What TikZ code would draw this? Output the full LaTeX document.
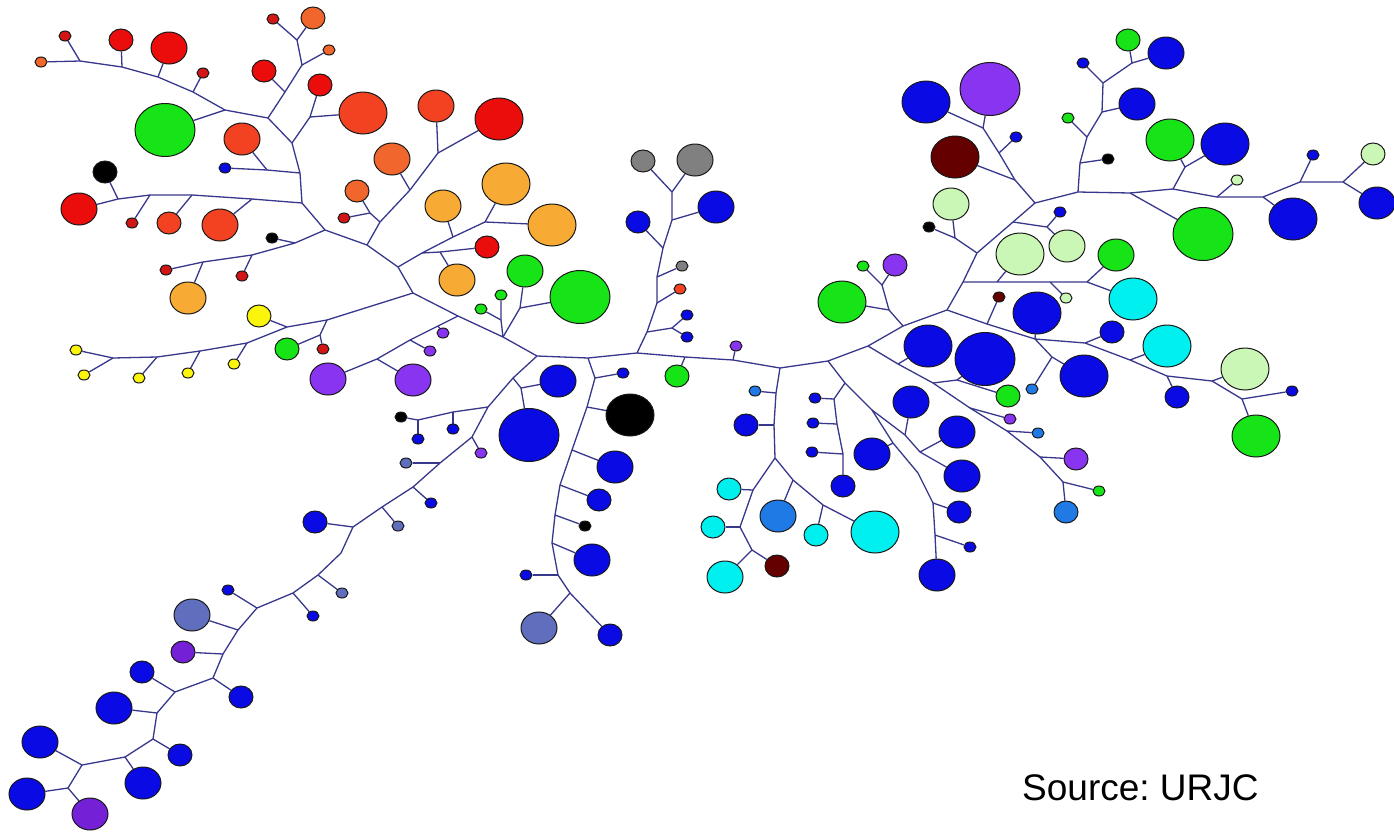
\documentclass[tikz,border=0pt]{standalone}
\usepackage{fontspec}
\setmainfont{Liberation Sans}
\usetikzlibrary{shapes.geometric,backgrounds}
\definecolor{cred}{RGB}{235,12,12}
\definecolor{cred2}{RGB}{210,22,22}
\definecolor{cored}{RGB}{242,66,34}
\definecolor{corng}{RGB}{240,102,44}
\definecolor{camber}{RGB}{247,170,52}
\definecolor{cyel}{RGB}{250,245,10}
\definecolor{cgreen}{RGB}{22,228,22}
\definecolor{clgreen}{RGB}{202,246,182}
\definecolor{cblue}{RGB}{10,10,228}
\definecolor{cpurp}{RGB}{136,52,240}
\definecolor{cpurp2}{RGB}{116,32,215}
\definecolor{cmaroon}{RGB}{100,0,0}
\definecolor{ccyan}{RGB}{0,240,240}
\definecolor{cdodger}{RGB}{32,122,230}
\definecolor{cgrey}{RGB}{128,128,128}
\definecolor{cslate}{RGB}{96,110,190}
\definecolor{cedge}{RGB}{55,55,140}
\newcommand\Bub[5]{\node[bub,#4,fill=#5] (#1) at (#2,#3) {};}
\frenchspacing
\begin{document}
\begin{tikzpicture}[x=1pt,y=-1pt,
  bub/.style={ellipse,inner sep=0pt,draw=black!90,line width=1pt},
  sA/.style={minimum width=12pt,minimum height=10pt},
  sB/.style={minimum width=24pt,minimum height=22pt},
  sC/.style={minimum width=36pt,minimum height=32pt},
  sD/.style={minimum width=48pt,minimum height=42pt},
  sE/.style={minimum width=60pt,minimum height=53pt},
  lnk/.style={draw=cedge,line width=1.3pt}]
\useasboundingbox (0,0) rectangle (1394,833);
% ---------- junctions ----------
\coordinate (j1) at (80,61);   \coordinate (j2) at (122,67);
\coordinate (j3) at (158,77);  \coordinate (j4) at (193,92);
\coordinate (j5) at (225,110); \coordinate (j6) at (268,118);
\coordinate (j7) at (292,143); \coordinate (j8) at (300,173);
\coordinate (j9) at (302,203); \coordinate (j10) at (325,230);
\coordinate (j11) at (367,245);\coordinate (j12) at (398,267);
\coordinate (j13) at (413,293);\coordinate (j14) at (285,92);
\coordinate (j15) at (302,65); \coordinate (j16) at (297,40);
\coordinate (j17) at (310,117);\coordinate (j18) at (267,170);
\coordinate (j19) at (252,199);\coordinate (j20) at (192,195);
\coordinate (j21) at (150,195);\coordinate (j22) at (118,199);
\coordinate (j23) at (295,243);\coordinate (j24) at (252,255);
\coordinate (j25) at (203,262);\coordinate (j26) at (380,222);
\coordinate (j27) at (410,190);\coordinate (j28) at (438,153);
\coordinate (j29) at (370,213);\coordinate (j30) at (422,253);
\coordinate (j31) at (453,237);\coordinate (j32) at (485,222);
\coordinate (j33) at (440,252);
\coordinate (k1) at (113,358); \coordinate (k2) at (157,357);
\coordinate (k3) at (200,351); \coordinate (k4) at (247,343);
\coordinate (k5) at (287,327); \coordinate (k6) at (327,320);
\coordinate (k7) at (320,335); \coordinate (k8) at (377,359);
\coordinate (k9) at (410,340); \coordinate (k10) at (438,326);
\coordinate (k11) at (458,316);\coordinate (k12) at (503,337);
\coordinate (k13) at (520,308);\coordinate (k14) at (501,320);
\coordinate (hub) at (537,356);
\coordinate (b1) at (513,378); \coordinate (b2) at (521,388);
\coordinate (b3) at (488,407); \coordinate (b4) at (472,437);
\coordinate (b5) at (440,463); \coordinate (b6) at (413,487);
\coordinate (b7) at (382,507); \coordinate (b8) at (353,527);
\coordinate (b9) at (341,553); \coordinate (b10) at (318,575);
\coordinate (b11) at (293,593);\coordinate (b12) at (257,608);
\coordinate (b13) at (238,630);\coordinate (b14) at (223,654);
\coordinate (b15) at (213,678);\coordinate (b16) at (175,692);
\coordinate (b17) at (157,713);\coordinate (b18) at (153,739);
\coordinate (b19) at (125,757);\coordinate (b20) at (82,765);
\coordinate (b21) at (68,788); \coordinate (b22) at (453,412);
\coordinate (b23) at (418,420);
\coordinate (m1) at (588,358); \coordinate (m2) at (637,353);
\coordinate (m3) at (685,357); \coordinate (m4) at (733,360);
\coordinate (m5) at (780,368); \coordinate (m6) at (828,361);
\coordinate (m7) at (868,346); \coordinate (m8) at (903,326);
\coordinate (m9) at (947,310); \coordinate (m10) at (963,282);
\coordinate (m11) at (977,253);\coordinate (m12) at (1013,222);
\coordinate (m13) at (1035,203);
\coordinate (e1) at (595,378); \coordinate (e2) at (587,407);
\coordinate (e3) at (572,450); \coordinate (e4) at (560,485);
\coordinate (e5) at (555,515); \coordinate (e6) at (552,543);
\coordinate (e7) at (558,575); \coordinate (e8) at (570,593);
\coordinate (n1) at (647,332); \coordinate (n2) at (657,303);
\coordinate (n3) at (657,277); \coordinate (n4) at (663,248);
\coordinate (n5) at (672,220); \coordinate (n6) at (672,192);
\coordinate (n7) at (672,328);
\coordinate (q1) at (776,393); \coordinate (q2) at (774,425);
\coordinate (q3) at (775,458); \coordinate (q4) at (753,490);
\coordinate (q5) at (740,527); \coordinate (q6) at (752,550);
\coordinate (q7) at (793,480); \coordinate (q8) at (823,505);
\coordinate (s1) at (845,383); \coordinate (s2) at (872,410);
\coordinate (s3) at (893,443); \coordinate (s4) at (918,473);
\coordinate (s5) at (933,503); \coordinate (s6) at (935,535);
\coordinate (s7) at (834,399); \coordinate (s8) at (837,424);
\coordinate (s9) at (843,454);
\coordinate (u1) at (905,435); \coordinate (u2) at (920,452);
\coordinate (v1) at (898,364); \coordinate (v2) at (933,383);
\coordinate (v3) at (970,408); \coordinate (v4) at (1007,431);
\coordinate (v5) at (1040,457);\coordinate (v6) at (1063,482);
\coordinate (v7) at (957,380);
\coordinate (x1) at (987,324); \coordinate (x2) at (1035,339);
\coordinate (x3) at (1085,343);\coordinate (x4) at (1130,360);
\coordinate (x5) at (1167,376);\coordinate (x6) at (1212,381);
\coordinate (x8) at (1052,357);\coordinate (x9) at (1242,399);
\coordinate (h1) at (997,282); \coordinate (h2) at (1050,282);
\coordinate (h3) at (1087,282);
\coordinate (a1) at (955,238); \coordinate (a2) at (1047,227);
\coordinate (a3) at (1015,180);\coordinate (a4) at (999,153);
\coordinate (a5) at (983,128); \coordinate (a6) at (889,310);
\coordinate (a7) at (882,285);
\coordinate (o1) at (1078,192);\coordinate (o2) at (1130,193);
\coordinate (o3) at (1173,189);\coordinate (o4) at (1217,197);
\coordinate (o5) at (1263,197);\coordinate (o6) at (1300,182);
\coordinate (o7) at (1343,182);\coordinate (o8) at (1080,163);
\coordinate (o9) at (1087,137);\coordinate (o10) at (1102,112);
\coordinate (o11) at (1103,83);\coordinate (o12) at (1132,63);
\coordinate (o13) at (1185,167);
% ---------- top-left subtree ----------
\Bub{c1}{41}{62}{sA}{corng}
\Bub{c2}{65}{36}{sA}{cred2}
\Bub{c3}{121}{40}{sB}{cred}
\Bub{c4}{169}{48}{sC}{cred}
\Bub{c5}{203}{73}{sA}{cred2}
\Bub{c6}{273}{19}{sA}{cred2}
\Bub{c7}{313}{18}{sB}{corng}
\Bub{c8}{329}{50}{sA}{corng}
\Bub{c9}{264}{71}{sB}{cred}
\Bub{c10}{320}{85}{sB}{cred}
\Bub{c11}{165}{130}{sE}{cgreen}
\Bub{c12}{242}{139}{sC}{cored}
\Bub{c13}{225}{168}{sA}{cblue}
\Bub{c14}{105}{172}{sB}{black}
\Bub{c15}{79}{209}{sC}{cred}
\Bub{c16}{132}{223}{sA}{cred2}
\Bub{c17}{169}{223}{sB}{cored}
\Bub{c18}{220}{225}{sC}{cored}
\Bub{c19}{272}{238}{sA}{black}
\Bub{c20}{242}{276}{sA}{cred2}
\Bub{c21}{166}{270}{sA}{cred2}
\Bub{c22}{188}{298}{sC}{camber}
\Bub{c23}{363}{113}{sD}{cored}
\Bub{c24}{436}{106}{sC}{cored}
\Bub{c25}{499}{119}{sD}{cred}
\Bub{c26}{392}{159}{sC}{corng}
\Bub{c27}{357}{191}{sB}{corng}
\Bub{c28}{344}{218}{sA}{cred2}
\Bub{c29}{443}{206}{sC}{camber}
\Bub{c30}{506}{184}{sD}{camber}
\Bub{c31}{552}{225}{sD}{camber}
\Bub{c32}{487}{247}{sB}{cred}
\Bub{c33}{457}{280}{sC}{camber}
% ---------- yellow / purple / green ----------
\Bub{y1}{76}{350}{sA}{cyel}
\Bub{y2}{84}{375}{sA}{cyel}
\Bub{y3}{139}{378}{sA}{cyel}
\Bub{y4}{188}{373}{sA}{cyel}
\Bub{y5}{234}{364}{sA}{cyel}
\Bub{y6}{259}{316}{sB}{cyel}
\Bub{y7}{287}{349}{sB}{cgreen}
\Bub{y8}{323}{349}{sA}{cred2}
\Bub{y9}{328}{379}{sC}{cpurp}
\Bub{y10}{413}{380}{sC}{cpurp}
\Bub{y11}{430}{351}{sA}{cpurp}
\Bub{y12}{443}{333}{sA}{cpurp}
\Bub{g1}{525}{271}{sC}{cgreen}
\Bub{g2}{580}{297}{sE}{cgreen}
\Bub{g3}{501}{295}{sA}{cgreen}
\Bub{g4}{481}{309}{sA}{cgreen}
% ---------- lower-left chain ----------
\Bub{d1}{558}{381}{sC}{cblue}
\Bub{d2}{529}{435}{sE}{cblue}
\Bub{d3}{401}{417}{sA}{black}
\Bub{d4}{453}{429}{sA}{cblue}
\Bub{d5}{418}{439}{sA}{cblue}
\Bub{d6}{481}{453}{sA}{cpurp}
\Bub{d7}{406}{463}{sA}{cslate}
\Bub{d8}{431}{503}{sA}{cblue}
\Bub{d9}{398}{526}{sA}{cslate}
\Bub{d10}{315}{522}{sB}{cblue}
\Bub{d11}{342}{593}{sA}{cslate}
\Bub{d12}{313}{616}{sA}{cblue}
\Bub{d13}{228}{590}{sA}{cblue}
\Bub{d14}{192}{615}{sC}{cslate}
\Bub{d15}{183}{652}{sB}{cpurp2}
\Bub{d16}{241}{697}{sB}{cblue}
\Bub{d17}{142}{672}{sB}{cblue}
\Bub{d18}{114}{708}{sC}{cblue}
\Bub{d19}{180}{755}{sB}{cblue}
\Bub{d20}{143}{783}{sC}{cblue}
\Bub{d21}{40}{742}{sC}{cblue}
\Bub{d22}{27}{794}{sC}{cblue}
\Bub{d23}{90}{814}{sC}{cpurp2}
% ---------- middle down branch ----------
\Bub{f1}{623}{373}{sA}{cblue}
\Bub{f2}{630}{415}{sD}{black}
\Bub{f3}{615}{467}{sC}{cblue}
\Bub{f4}{599}{500}{sB}{cblue}
\Bub{f5}{585}{526}{sA}{black}
\Bub{f6}{592}{560}{sC}{cblue}
\Bub{f7}{526}{575}{sA}{cblue}
\Bub{f8}{539}{628}{sC}{cslate}
\Bub{f9}{610}{635}{sB}{cblue}
% ---------- grey branch ----------
\Bub{p1}{687}{315}{sA}{cblue}
\Bub{p2}{687}{337}{sA}{cblue}
\Bub{p3}{680}{289}{sA}{cored}
\Bub{p4}{682}{266}{sA}{cgrey}
\Bub{p5}{638}{222}{sB}{cblue}
\Bub{p6}{716}{207}{sC}{cblue}
\Bub{p7}{643}{161}{sB}{cgrey}
\Bub{p8}{695}{160}{sC}{cgrey}
\Bub{p9}{677}{376}{sB}{cgreen}
\Bub{p10}{736}{346}{sA}{cpurp}
% ---------- central-right ----------
\Bub{r1}{755}{391}{sA}{cdodger}
\Bub{r2}{746}{425}{sB}{cblue}
\Bub{r3}{729}{489}{sB}{ccyan}
\Bub{r4}{713}{527}{sB}{ccyan}
\Bub{r5}{725}{577}{sC}{ccyan}
\Bub{r6}{777}{566}{sB}{cmaroon}
\Bub{r7}{875}{532}{sD}{ccyan}
\Bub{r8}{778}{516}{sC}{cdodger}
\Bub{r9}{816}{535}{sB}{ccyan}
\Bub{t1}{937}{575}{sC}{cblue}
\Bub{t2}{843}{486}{sB}{cblue}
\Bub{t3}{815}{398}{sA}{cblue}
\Bub{t4}{813}{423}{sA}{cblue}
\Bub{t5}{812}{452}{sA}{cblue}
\Bub{t6}{872}{454}{sC}{cblue}
\Bub{t7}{959}{512}{sB}{cblue}
\Bub{t8}{970}{547}{sA}{cblue}
\Bub{t9}{962}{476}{sC}{cblue}
\Bub{t10}{911}{402}{sC}{cblue}
\Bub{t11}{957}{432}{sC}{cblue}
\Bub{w1}{1066}{512}{sB}{cdodger}
\Bub{w2}{928}{346}{sD}{cblue}
\Bub{w3}{985}{359}{sE}{cblue}
\Bub{w4}{1008}{396}{sB}{cgreen}
\Bub{w5}{1010}{419}{sA}{cpurp}
\Bub{w6}{1038}{433}{sA}{cdodger}
\Bub{w7}{1076}{459}{sB}{cpurp}
\Bub{w8}{1099}{491}{sA}{cgreen}
% ---------- right ----------
\Bub{z1}{999}{297}{sA}{cmaroon}
\Bub{z2}{1037}{313}{sD}{cblue}
\Bub{z3}{1032}{389}{sA}{cdodger}
\Bub{z4}{1084}{376}{sD}{cblue}
\Bub{z5}{1112}{332}{sB}{cblue}
\Bub{z6}{1167}{346}{sD}{ccyan}
\Bub{z7}{1177}{397}{sB}{cblue}
\Bub{z8}{1245}{369}{sD}{clgreen}
\Bub{z9}{1292}{391}{sA}{cblue}
\Bub{z10}{1256}{436}{sD}{cgreen}
\Bub{z11}{1133}{299}{sD}{ccyan}
\Bub{z12}{1020}{254}{sD}{clgreen}
\Bub{z13}{1066}{298}{sA}{clgreen}
\Bub{z14}{1116}{255}{sC}{cgreen}
\Bub{z15}{951}{204}{sC}{clgreen}
\Bub{z16}{929}{227}{sA}{black}
\Bub{z17}{1060}{212}{sA}{cblue}
\Bub{z18}{1067}{246}{sC}{clgreen}
\Bub{z19}{955}{157}{sD}{cmaroon}
\Bub{z20}{1016}{137}{sA}{cblue}
\Bub{z21}{926}{102}{sD}{cblue}
\Bub{z22}{990}{89}{sE}{cpurp}
\Bub{z23}{842}{302}{sD}{cgreen}
\Bub{z24}{863}{266}{sA}{cgreen}
\Bub{z25}{895}{265}{sB}{cpurp}
\Bub{z26}{1377}{203}{sC}{cblue}
\Bub{z27}{1108}{159}{sA}{black}
\Bub{z28}{1068}{118}{sA}{cgreen}
\Bub{z29}{1137}{104}{sC}{cblue}
\Bub{z30}{1083}{63}{sA}{cblue}
\Bub{z31}{1128}{40}{sB}{cgreen}
\Bub{z32}{1166}{53}{sC}{cblue}
\Bub{z33}{1203}{234}{sE}{cgreen}
\Bub{z34}{1170}{140}{sD}{cgreen}
\Bub{z35}{1225}{144}{sD}{cblue}
\Bub{z36}{1237}{180}{sA}{clgreen}
\Bub{z37}{1293}{219}{sD}{cblue}
\Bub{z38}{1313}{155}{sA}{cblue}
\Bub{z39}{1373}{154}{sB}{clgreen}
\node[anchor=base west,inner sep=0pt,font=\fontsize{37}{44}\selectfont] (src) at (1022,800) {Source: URJC};
% ---------- connectors ----------
\begin{pgfonlayer}{background}
\draw[lnk] (c1) -- (j1) -- (j2) -- (j3) -- (j4) -- (j5) -- (j6) -- (j7) -- (j8) -- (j9) -- (j10) -- (j11) -- (j12) -- (j13) -- (k11) -- (k12) -- (hub) -- (m1) -- (m2) -- (m3) -- (m4) -- (m5) -- (m6) -- (m7) -- (m8) -- (m9) -- (m10) -- (m11) -- (m12) -- (m13) -- (o1) -- (o2) -- (o3) -- (o4) -- (o5) -- (o6) -- (o7) -- (z26);
\draw[lnk] (j1) -- (c2);  \draw[lnk] (j2) -- (c3);  \draw[lnk] (j3) -- (c4);
\draw[lnk] (j4) -- (c5);  \draw[lnk] (j5) -- (c11);
\draw[lnk] (j6) -- (j14) -- (j15) -- (j16) -- (c6);
\draw[lnk] (j14) -- (c9); \draw[lnk] (j15) -- (c8); \draw[lnk] (j16) -- (c7);
\draw[lnk] (j7) -- (j17) -- (c10); \draw[lnk] (j17) -- (c23);
\draw[lnk] (j8) -- (j18) -- (c13); \draw[lnk] (j18) -- (c12);
\draw[lnk] (j9) -- (j19) -- (j20) -- (j21) -- (j22) -- (c15);
\draw[lnk] (j19) -- (c18); \draw[lnk] (j20) -- (c17); \draw[lnk] (j21) -- (c16); \draw[lnk] (j22) -- (c14);
\draw[lnk] (j10) -- (j23) -- (j24) -- (j25) -- (c21);
\draw[lnk] (j23) -- (c19); \draw[lnk] (j24) -- (c20); \draw[lnk] (j25) -- (c22);
\draw[lnk] (j11) -- (j26) -- (j27) -- (j28) -- (c25);
\draw[lnk] (j28) -- (c24); \draw[lnk] (j27) -- (c26);
\draw[lnk] (j26) -- (j29) -- (c27); \draw[lnk] (j29) -- (c28);
\draw[lnk] (j12) -- (j30) -- (j31) -- (j32) -- (c31);
\draw[lnk] (j32) -- (c30); \draw[lnk] (j31) -- (c29);
\draw[lnk] (j30) -- (j33) -- (c32); \draw[lnk] (j33) -- (c33);
\draw[lnk] (y1) -- (k1) -- (k2) -- (k3) -- (k4) -- (k5) -- (k6) -- (j13);
\draw[lnk] (k1) -- (y2); \draw[lnk] (k2) -- (y3); \draw[lnk] (k3) -- (y4);
\draw[lnk] (k4) -- (y5); \draw[lnk] (k5) -- (y6);
\draw[lnk] (k6) -- (k7) -- (y7); \draw[lnk] (k7) -- (y8);
\draw[lnk] (y9) -- (k8) -- (k9) -- (k10) -- (k11);
\draw[lnk] (k8) -- (y10); \draw[lnk] (k9) -- (y11); \draw[lnk] (k10) -- (y12);
\draw[lnk] (k12) -- (k13) -- (g1); \draw[lnk] (k13) -- (g2);
\draw[lnk] (k12) -- (k14) -- (g3); \draw[lnk] (k14) -- (g4);
% lower-left chain
\draw[lnk] (hub) -- (b1) -- (b3) -- (b4) -- (b5) -- (b6) -- (b7) -- (b8) -- (b9) -- (b10) -- (b11) -- (b12) -- (b13) -- (b14) -- (b15) -- (b16) -- (b17) -- (b18) -- (b19) -- (b20) -- (b21) -- (d22);
\draw[lnk] (b1) -- (b2) -- (d1); \draw[lnk] (b2) -- (d2);
\draw[lnk] (b3) -- (b22) -- (b23) -- (d3); \draw[lnk] (b22) -- (d4); \draw[lnk] (b23) -- (d5);
\draw[lnk] (b4) -- (d6);  \draw[lnk] (b5) -- (d7);  \draw[lnk] (b6) -- (d8);
\draw[lnk] (b7) -- (d9);  \draw[lnk] (b8) -- (d10); \draw[lnk] (b10) -- (d11);
\draw[lnk] (b11) -- (d12); \draw[lnk] (b12) -- (d13); \draw[lnk] (b13) -- (d14);
\draw[lnk] (b14) -- (d15); \draw[lnk] (b15) -- (d16); \draw[lnk] (b16) -- (d17);
\draw[lnk] (b17) -- (d18); \draw[lnk] (b18) -- (d19); \draw[lnk] (b19) -- (d20);
\draw[lnk] (b20) -- (d21); \draw[lnk] (b21) -- (d23);
% middle down
\draw[lnk] (m1) -- (e1) -- (e2) -- (e3) -- (e4) -- (e5) -- (e6) -- (e7) -- (e8) -- (f8);
\draw[lnk] (e1) -- (f1); \draw[lnk] (e2) -- (f2); \draw[lnk] (e3) -- (f3);
\draw[lnk] (e4) -- (f4); \draw[lnk] (e5) -- (f5); \draw[lnk] (e6) -- (f6);
\draw[lnk] (e7) -- (f7); \draw[lnk] (e8) -- (f9);
% grey branch
\draw[lnk] (m2) -- (n1) -- (n2) -- (n3) -- (n4) -- (n5) -- (n6) -- (p7);
\draw[lnk] (n6) -- (p8); \draw[lnk] (n5) -- (p6); \draw[lnk] (n4) -- (p5);
\draw[lnk] (n3) -- (p4); \draw[lnk] (n2) -- (p3);
\draw[lnk] (n1) -- (n7) -- (p1); \draw[lnk] (n7) -- (p2);
\draw[lnk] (m3) -- (p9); \draw[lnk] (m4) -- (p10);
% vertical from m5
\draw[lnk] (m5) -- (q1) -- (q2) -- (q3) -- (q4) -- (q5) -- (q6) -- (r5);
\draw[lnk] (q1) -- (r1); \draw[lnk] (q2) -- (r2); \draw[lnk] (q4) -- (r3);
\draw[lnk] (q5) -- (r4); \draw[lnk] (q6) -- (r6);
\draw[lnk] (q3) -- (q7) -- (q8) -- (r7); \draw[lnk] (q7) -- (r8); \draw[lnk] (q8) -- (r9);
% diagonal from m6
\draw[lnk] (m6) -- (s1) -- (s2) -- (s3) -- (s4) -- (s5) -- (s6) -- (t1);
\draw[lnk] (s1) -- (s7) -- (s8) -- (s9) -- (t2);
\draw[lnk] (s7) -- (t3); \draw[lnk] (s8) -- (t4); \draw[lnk] (s9) -- (t5);
\draw[lnk] (s3) -- (t6); \draw[lnk] (s5) -- (t7); \draw[lnk] (s6) -- (t8);
\draw[lnk] (s2) -- (u1) -- (u2) -- (t9); \draw[lnk] (u1) -- (t10); \draw[lnk] (u2) -- (t11);
% diagonal from m7
\draw[lnk] (m7) -- (v1) -- (v2) -- (v3) -- (v4) -- (v5) -- (v6) -- (w1);
\draw[lnk] (v1) -- (w2); \draw[lnk] (v2) -- (v7) -- (w3); \draw[lnk] (v7) -- (w4);
\draw[lnk] (v3) -- (w5); \draw[lnk] (v4) -- (w6); \draw[lnk] (v5) -- (w7); \draw[lnk] (v6) -- (w8);
% green/purple from m8
\draw[lnk] (m8) -- (a6) -- (z23); \draw[lnk] (a6) -- (a7) -- (z24); \draw[lnk] (a7) -- (z25);
% from m9
\draw[lnk] (m9) -- (x1) -- (x2) -- (x3) -- (x4) -- (x5) -- (x6) -- (z8);
\draw[lnk] (x1) -- (z1); \draw[lnk] (x2) -- (z2);
\draw[lnk] (x2) -- (x8) -- (z4); \draw[lnk] (x8) -- (z3);
\draw[lnk] (x3) -- (z5); \draw[lnk] (x4) -- (z6); \draw[lnk] (x5) -- (z7);
\draw[lnk] (x6) -- (x9) -- (z9); \draw[lnk] (x9) -- (z10);
% horizontal from m10
\draw[lnk] (m10) -- (h1) -- (h2) -- (h3) -- (z11);
\draw[lnk] (h1) -- (z12); \draw[lnk] (h2) -- (z13); \draw[lnk] (h3) -- (z14);
% upper right
\draw[lnk] (m11) -- (a1) -- (z15); \draw[lnk] (a1) -- (z16);
\draw[lnk] (m12) -- (a2) -- (z17); \draw[lnk] (a2) -- (z18);
\draw[lnk] (m13) -- (a3) -- (a4) -- (a5) -- (z22);
\draw[lnk] (a3) -- (z19); \draw[lnk] (a4) -- (z20); \draw[lnk] (a5) -- (z21);
\draw[lnk] (o1) -- (o8) -- (o9) -- (o10) -- (o11) -- (z30);
\draw[lnk] (o8) -- (z27); \draw[lnk] (o9) -- (z28); \draw[lnk] (o10) -- (z29);
\draw[lnk] (o11) -- (o12) -- (z31); \draw[lnk] (o12) -- (z32);
\draw[lnk] (o2) -- (z33);
\draw[lnk] (o3) -- (o13) -- (z34); \draw[lnk] (o13) -- (z35);
\draw[lnk] (o4) -- (z36); \draw[lnk] (o5) -- (z37); \draw[lnk] (o6) -- (z38); \draw[lnk] (o7) -- (z39);
\end{pgfonlayer}
\end{tikzpicture}
\end{document}
